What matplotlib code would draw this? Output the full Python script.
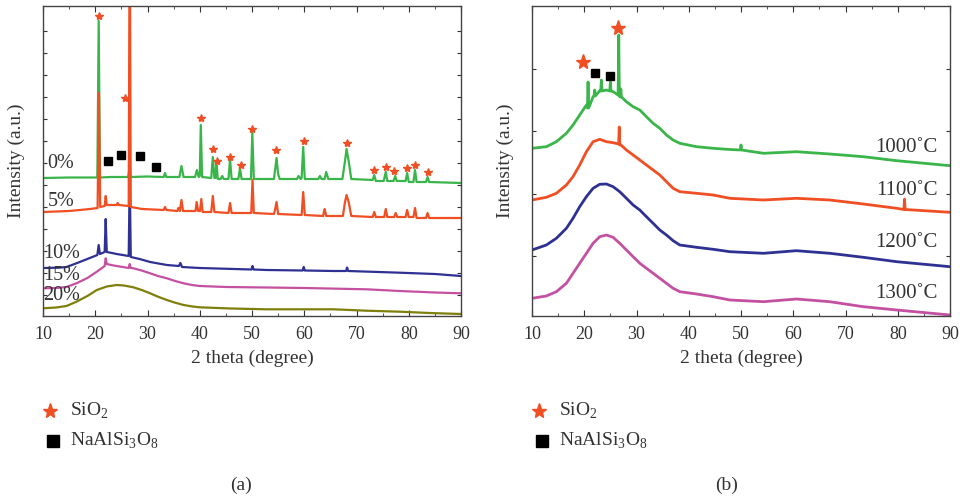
import matplotlib
matplotlib.use("Agg")
import matplotlib.pyplot as plt
from matplotlib.lines import Line2D
import numpy as np

plt.rcParams['font.family'] = ['Liberation Serif', 'DejaVu Serif']
plt.rcParams['mathtext.fontset'] = 'custom'
plt.rcParams['mathtext.rm'] = 'Liberation Serif'

TXT = '#333333'

# ---- panel (a): vertices (2theta, intensity a.u.) ----
a_0 = [(10, 138), (15, 138.5), (20.4, 138.5), (20.66, 295), (20.9, 138.5), (23, 139), (26.3, 139),
       (26.55, 147), (26.8, 139), (30, 139.5), (33.1, 139), (33.35, 143), (33.6, 139), (36.1, 139),
       (36.5, 150), (36.9, 139), (39.1, 139), (39.45, 146), (39.8, 139), (40.0, 140), (40.2, 191),
       (40.45, 139), (42.2, 138), (42.5, 159), (42.8, 138), (43.0, 138), (43.2, 154), (43.45, 137),
       (44.0, 137), (44.3, 140), (44.6, 137), (45.5, 137), (45.8, 157), (46.1, 137), (47.4, 137),
       (47.7, 148), (48.0, 137), (49.8, 137), (50.06, 183), (50.35, 137), (54.2, 137), (54.7, 158),
       (55.0, 142), (55.3, 137), (58.6, 137), (58.9, 140), (59.3, 137), (59.5, 138), (59.8, 169),
       (60.1, 137), (62.7, 137), (63.0, 140), (63.3, 137), (63.9, 137), (64.2, 144), (64.6, 137),
       (67.3, 137), (67.8, 155), (68.1, 167), (68.5, 155), (69.0, 137), (73.1, 136), (73.4, 141),
       (73.7, 135), (75.2, 135), (75.6, 144), (75.9, 135), (77.1, 135), (77.4, 140), (77.7, 135),
       (79.4, 135), (79.7, 143), (80.0, 134), (80.9, 134), (81.2, 146), (81.5, 134), (83.3, 134),
       (83.6, 139), (83.9, 134), (90, 133)]
a_5 = [(10, 104), (15, 105), (19, 107), (20.45, 108), (20.7, 223), (20.95, 109), (21.8, 110),
       (22.0, 120), (22.2, 111), (24.1, 111), (24.3, 113), (24.5, 111), (26.4, 110), (26.6, 420),
       (26.8, 109), (29, 107), (33.1, 106), (33.35, 109), (33.6, 106), (35.7, 105), (35.9, 108),
       (36.2, 105), (36.5, 116), (36.8, 105), (39.2, 105), (39.4, 114), (39.7, 105), (40.05, 105),
       (40.3, 117), (40.55, 104), (42.2, 104), (42.5, 120), (42.8, 104), (45.5, 103), (45.8, 113),
       (46.1, 103), (49.85, 103), (50.1, 136), (50.35, 103), (54.2, 102), (54.4, 106), (54.7, 114),
       (55.0, 102), (59.5, 101), (59.8, 124), (60.1, 101), (63.6, 100), (63.9, 107), (64.2, 100),
       (67.4, 100), (67.8, 114), (68.1, 121), (68.5, 114), (69.0, 100), (73.1, 99), (73.4, 104),
       (73.7, 99), (75.3, 99), (75.6, 107), (75.9, 99), (77.2, 99), (77.5, 103), (77.8, 99),
       (79.4, 99), (79.7, 106), (80.0, 99), (80.9, 99), (81.2, 108), (81.5, 98), (83.3, 98),
       (83.6, 103), (83.9, 98), (90, 98)]
a_10 = [(10, 48), (13, 48.3), (14.5, 49), (16.4, 52.7), (18, 56), (19.2, 58.5), (20.4, 61),
        (20.65, 71), (20.9, 62), (21.8, 64), (22.0, 97), (22.2, 64), (23.2, 63), (24.1, 62),
        (26.4, 60), (26.6, 139), (26.8, 59), (28.5, 57), (30.5, 54), (33.7, 51), (36.0, 50),
        (36.3, 53), (36.6, 49), (40, 48), (49.9, 46.5), (50.1, 50), (50.3, 46.5), (52.8, 46),
        (59.7, 45.5), (59.9, 49), (60.1, 45.5), (65.6, 45), (68.0, 45), (68.2, 48.5), (68.4, 45),
        (78.3, 43.3), (85, 42), (90, 40)]
a_15 = [(10, 27.7), (12.5, 28), (14.5, 29), (16.4, 32.7), (18.5, 38), (20.3, 44.3), (21.8, 50),
        (22.0, 57.7), (22.2, 52), (23.5, 50.5), (24.1, 50), (26.4, 48), (26.6, 52), (26.8, 48),
        (27.3, 47.7), (29, 45.3), (30.5, 42.7), (32, 40), (33.7, 37.7), (35.3, 35), (36.9, 32.7),
        (38.5, 31), (40, 30), (45, 29), (52.8, 28.5), (60, 28), (71.9, 26.7), (78.3, 25),
        (85, 23.5), (90, 22.7)]
a_20 = [(10, 7.7), (12.5, 8.5), (14.5, 10), (16.4, 14.3), (18.5, 20), (20.3, 26), (22.2, 29.5),
        (24.1, 31), (25.5, 30.5), (27.3, 28.7), (29, 25.8), (30.5, 22.7), (32, 19.3), (33.7, 16),
        (35.3, 13.3), (36.9, 11), (38.5, 9.6), (40, 8.7), (46, 7.5), (52.8, 6.7), (65.6, 6.7),
        (71.9, 5.3), (78.3, 4.3), (84, 3), (90, 2)]
a_labels = ['0%', '5%', '10%', '15%', '20%']
a_label_x = [10.9, 10.9, 10.0, 10.0, 10.0]
a_label_y = [153, 115, 63, 41, 20]
a_stars = [(20.66, 300), (25.69, 218), (40.24, 198), (42.47, 167), (43.3, 155), (45.78, 159),
           (47.83, 151), (50.06, 187), (54.6, 166), (59.95, 175), (68.24, 173), (73.41, 146),
           (75.59, 149), (77.24, 145), (79.6, 148), (81.2, 151), (83.6, 144)]
a_squares = [(22.38, 155), (24.93, 161), (28.56, 160), (31.57, 149)]

# ---- panel (b) ----
b_x_hump = [10, 12.75, 14.66, 16.58, 17.85, 19.13, 20.41, 21.69, 22.96, 24.24, 25.52, 26.79,
            28.07, 29.35, 30.63, 31.9, 33.18, 34.46, 35.73, 37.01, 38.29, 41.48, 44.67, 47.87]
b_1000_hump = [167.7, 169.3, 174.3, 182.7, 191, 201, 211, 219.3, 225.3, 226, 224.3, 219.3,
               214.3, 209.3, 206, 199.3, 192.7, 187.7, 181, 176, 172.7, 169.3, 167.7, 166.5]
b_1100_hump = [116, 118.7, 122.7, 131, 139.3, 151, 164.3, 174.3, 176.7, 174.3, 173.3, 171,
               166, 161, 156, 151, 146, 141, 134.3, 127.7, 124.3, 122.7, 121, 117.7]
b_1200_hump = [66, 71, 77.7, 87.7, 97.7, 109.3, 119.3, 127.7, 131.7, 132, 129.3, 124.3,
               117.7, 111, 106, 99.3, 92.7, 86, 81, 75.3, 71, 68.7, 66.7, 64.3]
b_1300_hump = [17.7, 20, 24.3, 32.7, 42.7, 52.7, 62.7, 72.7, 79.3, 81, 78.7, 72.7,
               66, 59.3, 52.7, 47.7, 42.7, 37.7, 32.7, 27.7, 24.3, 22, 19.3, 16]
b_x_tail = [54.3, 60.6, 67.0, 73.4, 79.8, 90]
b_1000_tail = [162.7, 164.3, 162, 159.3, 155.3, 150.3]
b_1100_tail = [116, 117.7, 116, 112, 107.7, 103.7]
b_1200_tail = [62.7, 65.3, 62.7, 58.7, 54.3, 49.3]
b_1300_tail = [14.3, 17, 14.3, 9.3, 6, 1]
# sharp reflections: (2theta, foot height, top height)
b_1000_peaks = [(20.73, 208, 234), (22.0, 220, 226), (23.28, 225, 236), (25.0, 225, 234),
                (26.6, 221, 281), (27.0, 219, 227), (50.0, 166, 171)]
b_1100_peaks = [(26.7, 172, 189), (81.3, 106.5, 116.7)]
b_labels = ['1000˚C', '1100˚C', '1200˚C', '1300˚C']
b_label_y = [169, 126, 74, 22]
b_stars = [(19.77, 254), (26.47, 288)]
b_squares = [(22.0, 243), (24.88, 240)]

GREEN, RED, BLUE, PINK, OLIVE = '#39b54a', '#f04e23', '#2e3192', '#c450a2', '#7f7f0c'
STAR = '#f04e23'

fig = plt.figure(figsize=(9.6, 4.98), dpi=100)
ax1 = fig.add_axes([43 / 960, 1 - 316 / 498, 418 / 960, 310 / 498])
ax2 = fig.add_axes([532 / 960, 1 - 316 / 498, 418 / 960, 310 / 498])


def draw(ax, curves, colors, lw):
    for c, col in zip(curves, colors):
        xy = np.array(c)
        ax.plot(xy[:, 0], xy[:, 1], color=col, lw=lw, solid_joinstyle='round')


def build(hump, tail, peaks):
    pts = list(zip(b_x_hump, hump)) + list(zip(b_x_tail, tail))
    for x0, foot, top in peaks:
        pts += [(x0 - 0.12, foot), (x0, top), (x0 + 0.12, foot)]
    return sorted(pts)


draw(ax1, [a_20, a_15, a_10, a_0, a_5], [OLIVE, PINK, BLUE, GREEN, RED], 1.6)
draw(ax2, [build(b_1300_hump, b_1300_tail, []), build(b_1200_hump, b_1200_tail, []),
           build(b_1100_hump, b_1100_tail, b_1100_peaks), build(b_1000_hump, b_1000_tail, b_1000_peaks)],
     [PINK, BLUE, RED, GREEN], 2.0)

s = np.array(a_stars)
ax1.plot(s[:, 0], s[:, 1], ls='none', marker='*', ms=6, color=STAR, mec=STAR)
q = np.array(a_squares)
ax1.plot(q[:, 0], q[:, 1], ls='none', marker='s', ms=6, color='black')
s = np.array(b_stars)
ax2.plot(s[:, 0], s[:, 1], ls='none', marker='*', ms=11, color=STAR, mec=STAR)
q = np.array(b_squares)
ax2.plot(q[:, 0], q[:, 1], ls='none', marker='s', ms=5.5, color='black')

for lab, xx, yy in zip(a_labels, a_label_x, a_label_y):
    ax1.text(xx, yy, lab, fontsize=14.5, color=TXT, ha='left', va='center')
for lab, yy in zip(b_labels, b_label_y):
    ax2.text(87.6, yy, lab, fontsize=15, color=TXT, ha='right', va='center')

for ax, yt in [(ax1, np.arange(21, 300, 22)), (ax2, [60, 122.5, 185, 247.5])]:
    ax.set_xlim(10, 90)
    ax.set_ylim(0, 310)
    ax.set_xticks(range(10, 91, 10))
    ax.set_xticks(range(15, 90, 10), minor=True)
    ax.set_yticks(yt)
    ax.set_yticklabels([])
    ax.tick_params(direction='in', which='both', top=True, right=True, colors=TXT,
                   labelsize=13, length=4, pad=7)
    ax.tick_params(which='minor', length=2.5)
    ax.tick_params(axis='y', length=3)
    for sp in ax.spines.values():
        sp.set_color('#444444')
        sp.set_linewidth(1.0)
    ax.set_xlabel('2 theta (degree)', fontsize=14, color=TXT, labelpad=5)
    ax.set_ylabel('Intensity (a.u.)', fontsize=14, color=TXT, labelpad=6)


def px(x, y):
    return x / 960, 1 - y / 498


# legends below the panels and captions
for x0 in [50, 539]:
    fig.add_artist(Line2D([px(x0, 411)[0]], [px(x0, 411)[1]], marker='*', ms=11, color=STAR, ls='none'))
    fig.add_artist(Line2D([px(x0 + 3, 441)[0]], [px(x0 + 3, 441)[1]], marker='s', ms=8, color='black', ls='none'))
    fig.text(*px(x0 + 20, 411), r'SiO$_2$', fontsize=14, color=TXT, va='center')
    fig.text(*px(x0 + 20, 441), r'NaAlSi$_3$O$_8$', fontsize=14, color=TXT, va='center')

fig.text(*px(241, 485), '(a)', fontsize=14, color=TXT, ha='center', va='center')
fig.text(*px(727, 485), '(b)', fontsize=14, color=TXT, ha='center', va='center')

fig.savefig('out.png', dpi=100)
